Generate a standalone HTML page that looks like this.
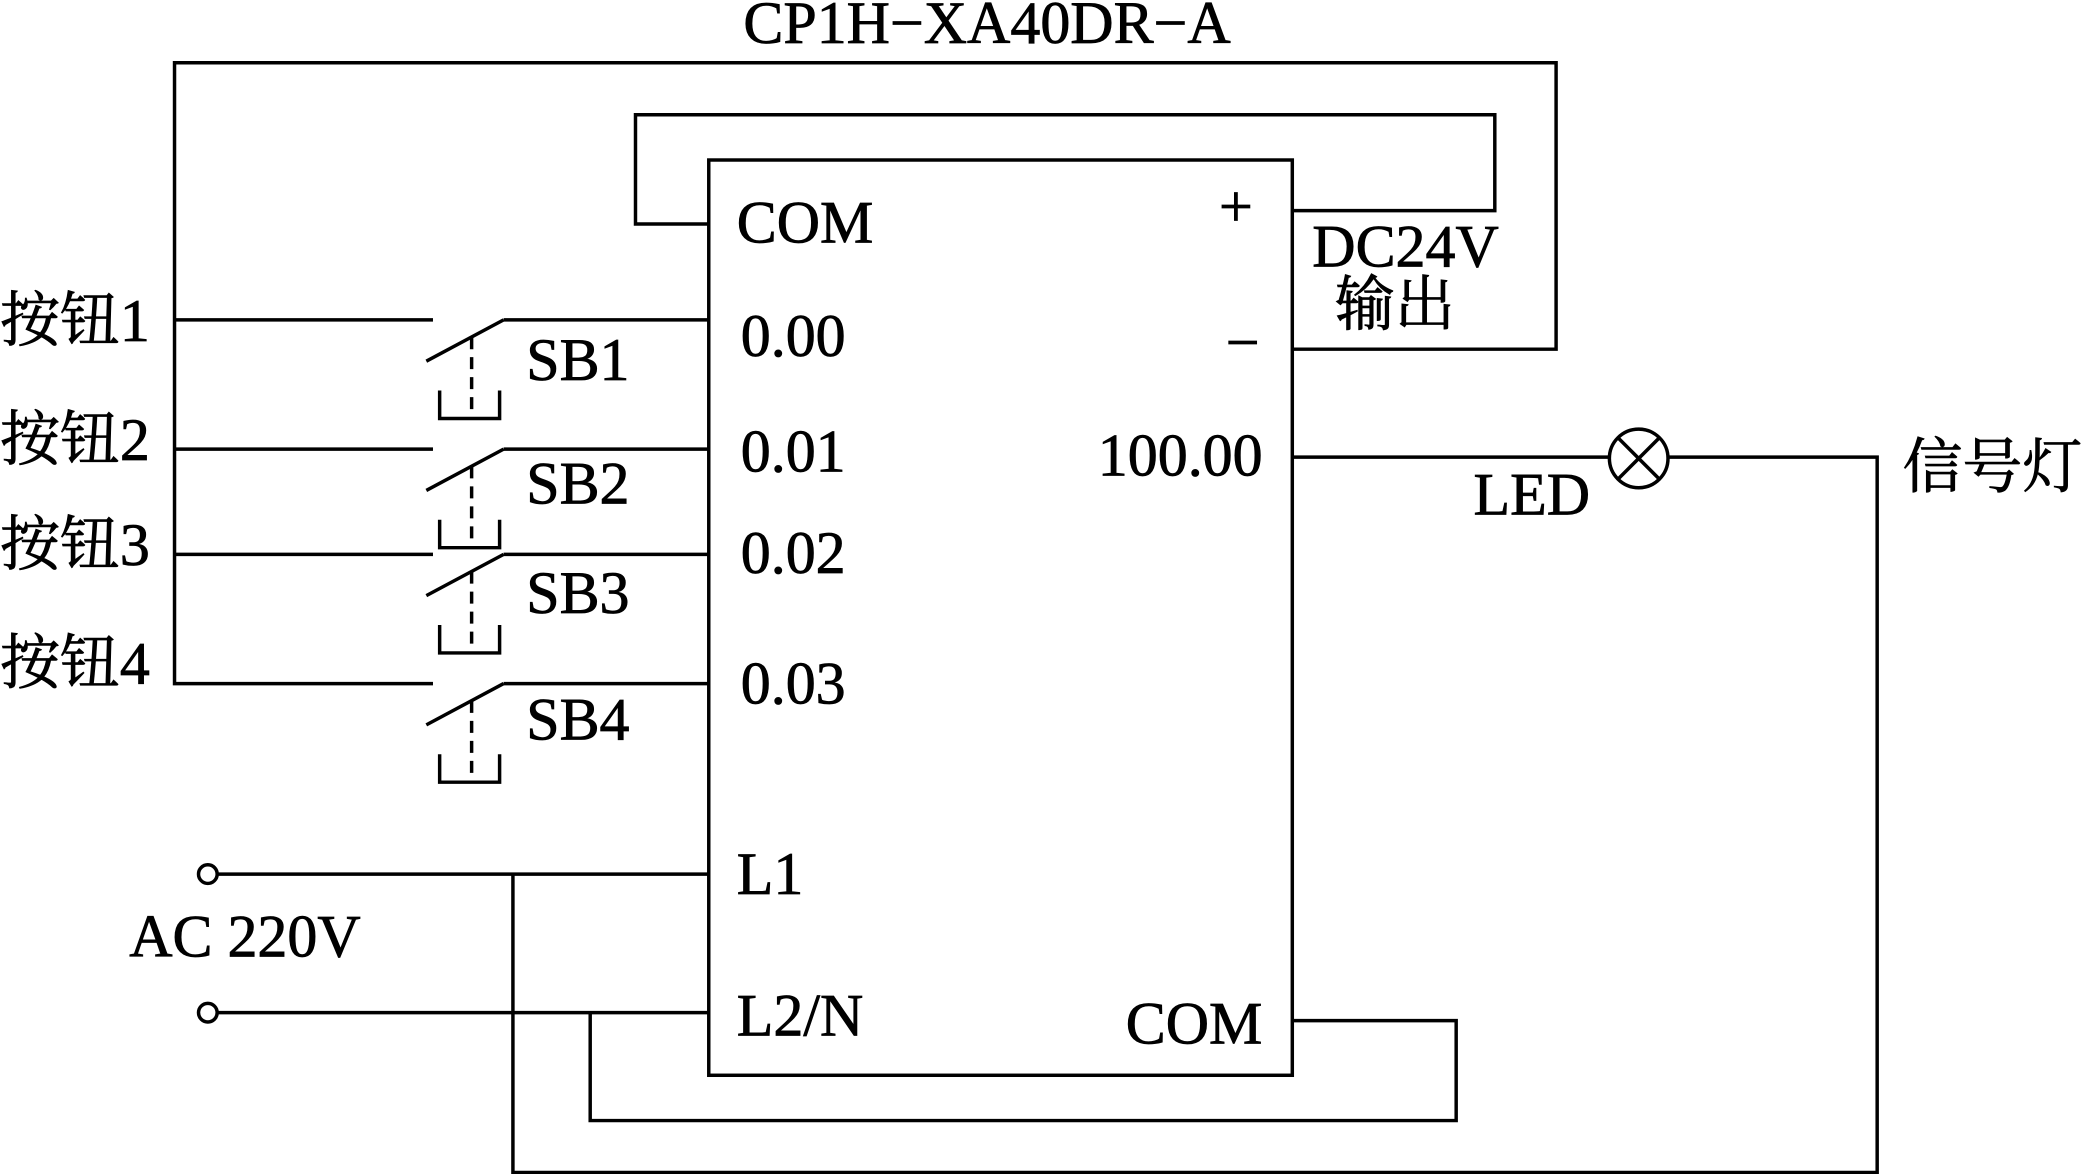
<!DOCTYPE html>
<html><head><style>
html,body{margin:0;padding:0;background:#fff;}
svg{display:block;}
text{font-family:"Liberation Serif","Noto Serif CJK SC",serif;fill:#000;stroke:#000;stroke-width:0.6;}
</style></head><body>
<svg width="2089" height="1174" viewBox="0 0 1568 881" xmlns="http://www.w3.org/2000/svg">
<g stroke="#000" stroke-width="2.6" fill="none">
<rect x="532" y="120" width="438" height="687"/>
<polyline points="532,168 477,168 477,86 1122,86 1122,158 970,158"/>
<polyline points="970,262 1168,262 1168,47 131,47 131,513 325,513"/>
<line x1="131" y1="240" x2="325" y2="240"/>
<line x1="131" y1="337" x2="325" y2="337"/>
<line x1="131" y1="416" x2="325" y2="416"/>
<g>
<line x1="378" y1="240" x2="532" y2="240"/><line x1="320" y1="271" x2="378" y2="240"/>
<line x1="354" y1="253" x2="354" y2="314" stroke-dasharray="9,6"/><polyline points="330,293 330,314 375,314 375,293"/>
</g>
<g transform="translate(0,97)">
<line x1="378" y1="240" x2="532" y2="240"/><line x1="320" y1="271" x2="378" y2="240"/>
<line x1="354" y1="253" x2="354" y2="314" stroke-dasharray="9,6"/><polyline points="330,293 330,314 375,314 375,293"/>
</g>
<g transform="translate(0,176)">
<line x1="378" y1="240" x2="532" y2="240"/><line x1="320" y1="271" x2="378" y2="240"/>
<line x1="354" y1="253" x2="354" y2="314" stroke-dasharray="9,6"/><polyline points="330,293 330,314 375,314 375,293"/>
</g>
<g transform="translate(0,273)">
<line x1="378" y1="240" x2="532" y2="240"/><line x1="320" y1="271" x2="378" y2="240"/>
<line x1="354" y1="253" x2="354" y2="314" stroke-dasharray="9,6"/><polyline points="330,293 330,314 375,314 375,293"/>
</g>
<circle cx="156" cy="656" r="7"/>
<circle cx="156" cy="760" r="7"/>
<line x1="163" y1="656" x2="532" y2="656"/>
<line x1="163" y1="760" x2="532" y2="760"/>
<polyline points="385,656 385,880 1409,880 1409,343 1252,343"/>
<polyline points="443,760 443,841 1093,841 1093,766 970,766"/>
<line x1="970" y1="343" x2="1208" y2="343"/>
<circle cx="1230" cy="344" r="22"/>
<line x1="1214" y1="328" x2="1246" y2="360"/>
<line x1="1246" y1="328" x2="1214" y2="360"/>
</g>
<g font-size="45">
<text x="558" y="32">CP1H−XA40DR−A</text>
<text x="553" y="182">COM</text>
<text x="915" y="170">+</text>
<text x="920" y="272">−</text>
<text x="985" y="200">DC24V</text>
<text x="1002" y="244">输出</text>
<text x="556" y="267">0.00</text>
<text x="556" y="354">0.01</text>
<text x="556" y="430">0.02</text>
<text x="556" y="528">0.03</text>
<text x="824" y="357">100.00</text>
<text x="1106" y="386">LED</text>
<text x="1428" y="366">信号灯</text>
<text x="395" y="285">SB1</text>
<text x="395" y="378">SB2</text>
<text x="395" y="460">SB3</text>
<text x="395" y="555">SB4</text>
<text x="0" y="256">按钮1</text>
<text x="0" y="345">按钮2</text>
<text x="0" y="424">按钮3</text>
<text x="0" y="513">按钮4</text>
<text x="553" y="671">L1</text>
<text x="553" y="777">L2/N</text>
<text x="845" y="783">COM</text>
<text x="97" y="718">AC 220V</text>
</g>
</svg>
</body></html>
